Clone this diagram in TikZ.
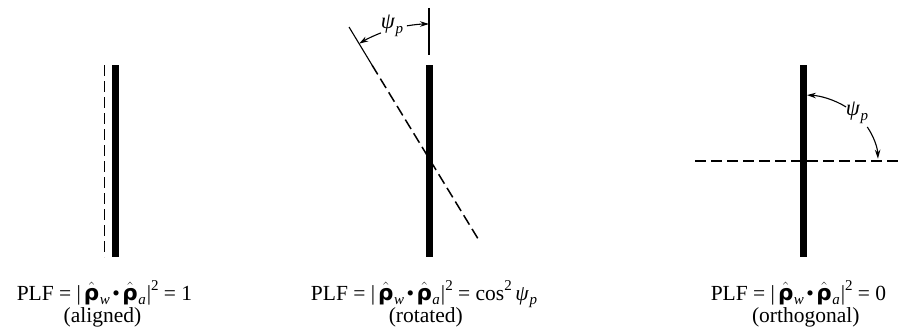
\documentclass[tikz,border=0pt]{standalone}
\usepackage{fontspec}
\setmainfont{Liberation Serif}
\newfontfamily\rhofont{DejaVu Sans}
\usetikzlibrary{arrows.meta}
\newcommand{\rh}{\ensuremath{\hat{\mbox{\rhofont\bfseries ρ}}}}
\newcommand{\sbs}[1]{\raisebox{-0.22em}{\fontsize{15}{15}\selectfont\itshape #1}}
\newcommand{\sps}[1]{\raisebox{0.45em}{\fontsize{15}{15}\selectfont #1}}
\newcommand{\psip}{\textit{ψ}\kern0.5pt\sbs{p}}
\newcommand{\plf}{PLF = |\kern3pt\rh\kern0.5pt\sbs{w}\kern2.5pt•\kern2.5pt\rh\kern0.5pt\sbs{a}\kern1pt|\sps{2}}
\begin{document}
\begin{tikzpicture}[x=1pt,y=1pt,
  bar/.style={line width=7pt},
  dline/.style={line width=1.5pt, dash pattern=on 11pt off 5pt},
  thin/.style={line width=1.1pt},
  ang/.style={line width=1.1pt, -{Stealth[length=9pt,width=5.5pt]}},
  eq/.style={font=\fontsize{21.5}{24}\selectfont, inner sep=0pt, anchor=base},
  lab/.style={font=\fontsize{22.5}{24}\selectfont, inner sep=0pt}]
\useasboundingbox (0,0) rectangle (899,333);
% ---------- left (aligned)
\coordinate (Lt) at (115,268); \coordinate (Lb) at (115,76);
\coordinate (LDt) at (104.5,268); \coordinate (LDb) at (104.5,76);
\draw[bar] (Lt) -- (Lb);
\draw[dline] (LDt) -- (LDb);
\node[eq] (eqL) at (104.5,33) {\plf{} = 1};
\node[eq] (capL) at (102.5,10.5) {(aligned)};
% ---------- middle (rotated)
\coordinate (Mt) at (429,268); \coordinate (Mb) at (429,76);
\coordinate (C) at (429,175);
\coordinate (P1) at (349,306); \coordinate (P2) at (372,268); \coordinate (P3) at (480,91);
\coordinate (Vt) at (429,325); \coordinate (Vb) at (429,278);
\draw[bar] (Mt) -- (Mb);
\draw[thin] (P1) -- (P2);
\draw[dline] (P2) -- (P3);
\draw[thin] (Vt) -- (Vb);
\node[lab] (psiM) at (392,307) {\psip};
\draw[ang,shift={(C)}] (99.5:134pt) arc[start angle=99.5,end angle=90,radius=134pt];
\draw[ang,shift={(C)}] (111:134pt) arc[start angle=111,end angle=121.4,radius=134pt];
\node[eq] (eqM) at (424,33) {\plf{} = cos\sps{2}\,\psip};
\node[eq] (capM) at (425.8,10.5) {(rotated)};
% ---------- right (orthogonal)
\coordinate (Rt) at (803,268); \coordinate (Rb) at (803,76);
\coordinate (D) at (803,172);
\coordinate (Hl) at (695,172); \coordinate (Hr) at (899,172);
\draw[bar] (Rt) -- (Rb);
\draw[dline] (Hl) -- (Hr);
\node[lab] (psiR) at (857,220) {\psip};
\draw[ang,shift={(D)}] (55:75pt and 66pt) arc[start angle=55,end angle=87,x radius=75pt,y radius=66pt];
\draw[ang,shift={(D)}] (31:75pt and 66pt) arc[start angle=31,end angle=2,x radius=75pt,y radius=66pt];
\node[eq] (eqR) at (798.5,33) {\plf{} = 0};
\node[eq] (capR) at (805.8,10.5) {(orthogonal)};
\end{tikzpicture}
\end{document}
